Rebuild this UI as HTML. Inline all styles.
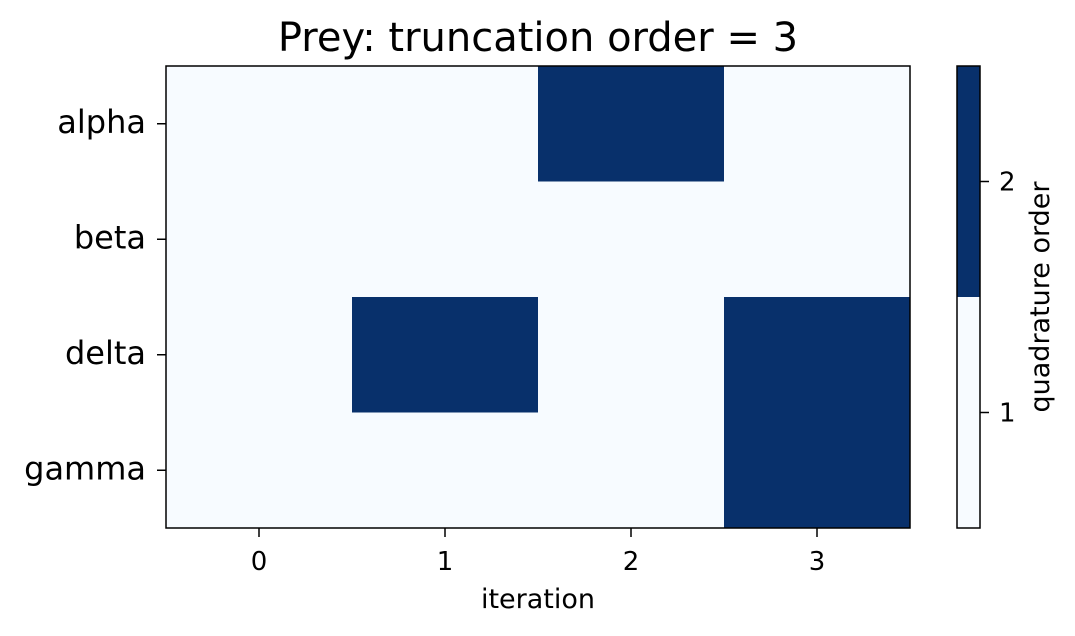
<!DOCTYPE html>
<html><head><meta charset="utf-8"><style>body{margin:0;background:#fff}svg{display:block;font-family:"DejaVu Sans","Liberation Sans",sans-serif}</style></head>
<body>
<svg id="c" width="1075" height="636"></svg>
<script>
const rows=["alpha","beta","delta","gamma"];
const iterations=[0,1,2,3];
const values=[[1,1,2,1],[1,1,1,1],[1,2,1,2],[1,1,1,2]];
const cbTicks=[1,2];
const NS="http://www.w3.org/2000/svg",svg=document.getElementById('c');
function mk(t,a,p){const e=document.createElementNS(NS,t);for(const k in a)e.setAttribute(k,a[k]);(p||svg).appendChild(e);return e;}
const L=166,R=910,T=66,B=528;
const cw=(R-L)/iterations.length,rh=(B-T)/rows.length;
const x=i=>L+i*cw,y=j=>T+j*rh;
const col=v=>v>=2?"#08306b":"#f7fbff";
values.forEach((r,j)=>r.forEach((v,i)=>{const e=mk('rect',{x:x(i),y:y(j),width:cw+0.5,height:rh+0.5,fill:col(v)});

}));
mk('rect',{x:L,y:T,width:R-L,height:B-T,fill:'none',stroke:'#000','stroke-width':1.5,});
rows.forEach((n,j)=>{const cy=y(j)+rh/2;mk('line',{x1:L-9,x2:L,y1:cy,y2:cy,stroke:'#000','stroke-width':1.5});
const t=mk('text',{x:L-20,y:cy+9,'text-anchor':'end','font-size':32});t.textContent=n;

});
iterations.forEach((n,i)=>{const cx=x(i)+cw/2;mk('line',{x1:cx,x2:cx,y1:B,y2:B+9,stroke:'#000','stroke-width':1.5});
const t=mk('text',{x:cx,y:B+42,'text-anchor':'middle','font-size':26});t.textContent=n;

});
let t=mk('text',{x:(L+R)/2,y:B+80,'text-anchor':'middle','font-size':27,});t.textContent='iteration';
t=mk('text',{x:(L+R)/2,y:51,'text-anchor':'middle','font-size':40,});t.textContent='Prey: truncation order = 3';
const CL=957,CR=980,vmin=0.5,vmax=2.5,cy=v=>B-(v-vmin)/(vmax-vmin)*(B-T);
cbTicks.forEach(v=>{const e=mk('rect',{x:CL,y:cy(v+0.5),width:CR-CL,height:cy(v-0.5)-cy(v+0.5),fill:col(v)});


mk('line',{x1:CR,x2:CR+9,y1:cy(v),y2:cy(v),stroke:'#000','stroke-width':1.5});
const tt=mk('text',{x:CR+19,y:cy(v)+9,'font-size':26});tt.textContent=v;

});
mk('rect',{x:CL,y:T,width:CR-CL,height:B-T,fill:'none',stroke:'#000','stroke-width':1.5,});
t=mk('text',{x:0,y:0,'text-anchor':'middle','font-size':27,transform:`translate(1049,${(T+B)/2}) rotate(-90)`,});t.textContent='quadrature order';
</script>
</body></html>
